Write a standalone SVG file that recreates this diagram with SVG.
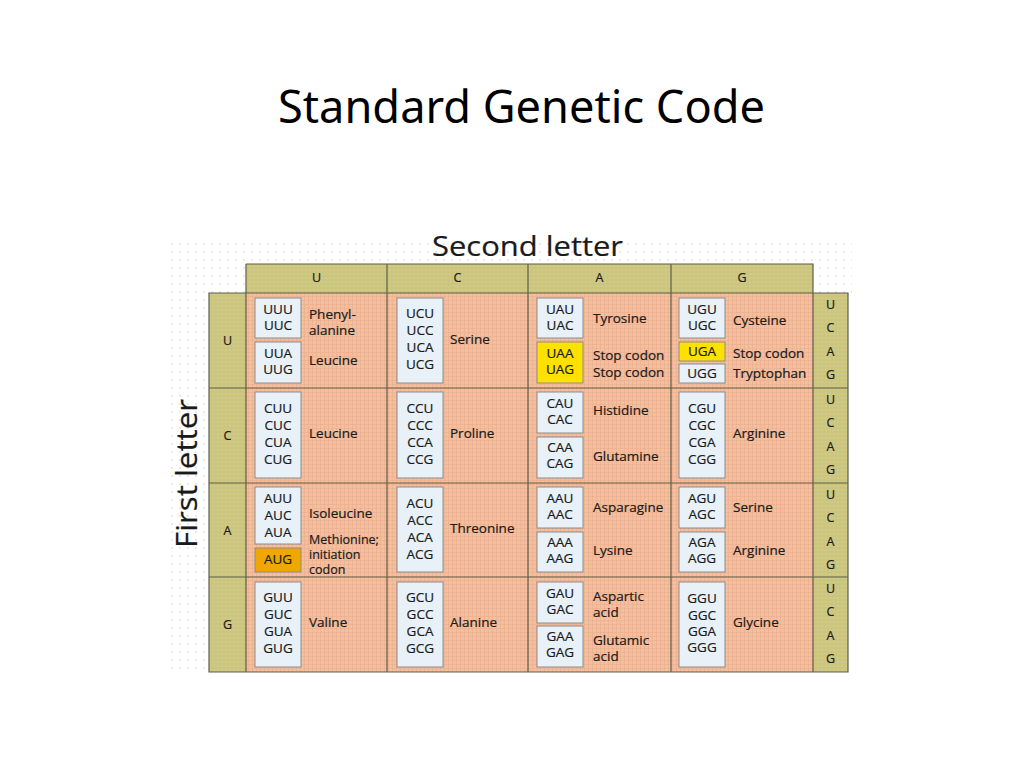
<svg xmlns="http://www.w3.org/2000/svg" width="1024" height="768" viewBox="0 0 1024 768">
<defs>
<pattern id="bgdots" width="8" height="8" patternUnits="userSpaceOnUse">
<circle cx="4" cy="4" r="0.8" fill="#cfcfcf"/>
</pattern>
<pattern id="olive" width="4" height="4" patternUnits="userSpaceOnUse">
<rect width="4" height="4" fill="#cbc57e"/>
<circle cx="2" cy="2" r="0.6" fill="#e6e2b4"/>
</pattern>
<pattern id="orange" width="4" height="4" patternUnits="userSpaceOnUse">
<rect width="4" height="4" fill="#f4bf9f"/>
<path d="M0 0.5H4M0.5 0V4" stroke="#e9ad8c" stroke-width="0.6"/>
</pattern>
<style>
.t{font-family:"Open Sans","Noto Sans","DejaVu Sans",sans-serif;fill:#1a1a1a;stroke:#1a1a1a;stroke-width:0.2;}
.cod{font-size:13.5px;text-anchor:middle;}
.aa{font-size:13.5px;}
.sm{font-size:12.5px;}
.hd{font-size:12.5px;text-anchor:middle;}
.box{fill:#e8f1f8;stroke:#8c8c8c;stroke-width:1;}
.stop{fill:#ffe100;stroke:#8c8c8c;stroke-width:1;}
.start{fill:#f0a800;stroke:#8c8c8c;stroke-width:1;}
.ln{stroke:#5e5e48;stroke-width:1.2;fill:none;}
</style>
</defs>
<rect width="1024" height="768" fill="#ffffff"/>
<text x="278" y="123" textLength="487" lengthAdjust="spacingAndGlyphs" style="font-family:'Comic Sans MS','Noto Sans','DejaVu Sans',sans-serif;font-size:46px;fill:#000">Standard Genetic Code</text>

<g id="background">
<rect x="170" y="237" width="682" height="56" fill="url(#bgdots)"/>
<rect x="170" y="293" width="39" height="379" fill="url(#bgdots)"/>
</g>

<g id="axis-labels">
<text class="t" x="432" y="256" textLength="191" lengthAdjust="spacingAndGlyphs" style="font-size:27px">Second letter</text>
<text class="t" transform="translate(197,548) rotate(-90)" textLength="149" lengthAdjust="spacingAndGlyphs" style="font-size:30px">First letter</text>
</g>

<g id="frame">
<rect x="246" y="264" width="567" height="29" fill="url(#olive)"/>
<rect x="209" y="293" width="37" height="379" fill="url(#olive)"/>
<rect x="813" y="293" width="35" height="379" fill="url(#olive)"/>
<rect x="246" y="293" width="567" height="379" fill="url(#orange)"/>
</g>

<g id="header">
<text class="t hd" x="316.5" y="282">U</text>
<text class="t hd" x="457.5" y="282">C</text>
<text class="t hd" x="599.5" y="282">A</text>
<text class="t hd" x="742" y="282">G</text>
</g>
<g id="first-letters">
<text class="t hd" x="227.5" y="345">U</text>
<text class="t hd" x="227.5" y="440">C</text>
<text class="t hd" x="227.5" y="535">A</text>
<text class="t hd" x="227.5" y="629">G</text>
</g>
<g id="third-letters">
<text class="t hd" x="830.5" y="309">U</text><text class="t hd" x="830.5" y="332">C</text><text class="t hd" x="830.5" y="356">A</text><text class="t hd" x="830.5" y="379">G</text>
<text class="t hd" x="830.5" y="404">U</text><text class="t hd" x="830.5" y="427">C</text><text class="t hd" x="830.5" y="451">A</text><text class="t hd" x="830.5" y="474">G</text>
<text class="t hd" x="830.5" y="499">U</text><text class="t hd" x="830.5" y="522">C</text><text class="t hd" x="830.5" y="546">A</text><text class="t hd" x="830.5" y="569">G</text>
<text class="t hd" x="830.5" y="593">U</text><text class="t hd" x="830.5" y="616">C</text><text class="t hd" x="830.5" y="640">A</text><text class="t hd" x="830.5" y="663">G</text>
</g>

<g id="connectors">
<path class="ln" d="M246 264H813V293M246 264V672M387 264V672M528 264V672M671 264V672M813 293V672"/>
<path class="ln" d="M209 293H848V672H209ZM209 388H848M209 483H848M209 577H848"/>
</g>

<!-- Row U -->
<g id="cell-UU">
<rect class="box" x="255" y="298" width="46" height="40"/>
<text class="t cod" x="278" y="314">UUU</text><text class="t cod" x="278" y="330">UUC</text>
<rect class="box" x="255" y="342" width="46" height="41"/>
<text class="t cod" x="278" y="358">UUA</text><text class="t cod" x="278" y="374">UUG</text>
<text class="t aa" x="309" y="319">Phenyl-</text><text class="t aa" x="309" y="335">alanine</text>
<text class="t aa" x="309" y="365">Leucine</text>
</g>
<g id="cell-UC">
<rect class="box" x="397" y="298" width="46" height="85"/>
<text class="t cod" x="420" y="318">UCU</text><text class="t cod" x="420" y="335">UCC</text><text class="t cod" x="420" y="352">UCA</text><text class="t cod" x="420" y="369">UCG</text>
<text class="t aa" x="450" y="344">Serine</text>
</g>
<g id="cell-UA">
<rect class="box" x="537" y="298" width="46" height="40"/>
<text class="t cod" x="560" y="314">UAU</text><text class="t cod" x="560" y="330">UAC</text>
<rect class="stop" x="537" y="342" width="46" height="41"/>
<text class="t cod" x="560" y="358">UAA</text><text class="t cod" x="560" y="374">UAG</text>
<text class="t aa" x="593" y="323">Tyrosine</text>
<text class="t aa" x="593" y="360">Stop codon</text><text class="t aa" x="593" y="377">Stop codon</text>
</g>
<g id="cell-UG">
<rect class="box" x="679" y="298" width="46" height="40"/>
<text class="t cod" x="702" y="314">UGU</text><text class="t cod" x="702" y="330">UGC</text>
<rect class="stop" x="679" y="342" width="46" height="19"/>
<text class="t cod" x="702" y="356">UGA</text>
<rect class="box" x="679" y="364" width="46" height="19"/>
<text class="t cod" x="702" y="378">UGG</text>
<text class="t aa" x="733" y="325">Cysteine</text>
<text class="t aa" x="733" y="358">Stop codon</text><text class="t aa" x="733" y="378">Tryptophan</text>
</g>

<!-- Row C -->
<g id="cell-CU">
<rect class="box" x="255" y="392" width="46" height="86"/>
<text class="t cod" x="278" y="413">CUU</text><text class="t cod" x="278" y="430">CUC</text><text class="t cod" x="278" y="447">CUA</text><text class="t cod" x="278" y="464">CUG</text>
<text class="t aa" x="309" y="438">Leucine</text>
</g>
<g id="cell-CC">
<rect class="box" x="397" y="392" width="46" height="86"/>
<text class="t cod" x="420" y="413">CCU</text><text class="t cod" x="420" y="430">CCC</text><text class="t cod" x="420" y="447">CCA</text><text class="t cod" x="420" y="464">CCG</text>
<text class="t aa" x="450" y="438">Proline</text>
</g>
<g id="cell-CA">
<rect class="box" x="537" y="392" width="46" height="41"/>
<text class="t cod" x="560" y="408">CAU</text><text class="t cod" x="560" y="424">CAC</text>
<rect class="box" x="537" y="437" width="46" height="41"/>
<text class="t cod" x="560" y="452">CAA</text><text class="t cod" x="560" y="468">CAG</text>
<text class="t aa" x="593" y="415">Histidine</text>
<text class="t aa" x="593" y="461">Glutamine</text>
</g>
<g id="cell-CG">
<rect class="box" x="679" y="392" width="46" height="86"/>
<text class="t cod" x="702" y="413">CGU</text><text class="t cod" x="702" y="430">CGC</text><text class="t cod" x="702" y="447">CGA</text><text class="t cod" x="702" y="464">CGG</text>
<text class="t aa" x="733" y="438">Arginine</text>
</g>

<!-- Row A -->
<g id="cell-AU">
<rect class="box" x="255" y="487" width="46" height="57"/>
<text class="t cod" x="278" y="503">AUU</text><text class="t cod" x="278" y="520">AUC</text><text class="t cod" x="278" y="537">AUA</text>
<rect class="start" x="255" y="548" width="46" height="24"/>
<text class="t cod" x="278" y="564">AUG</text>
<text class="t aa" x="309" y="518">Isoleucine</text>
<text class="t aa sm" x="309" y="544">Methionine;</text><text class="t aa sm" x="309" y="559">initiation</text><text class="t aa sm" x="309" y="574">codon</text>
</g>
<g id="cell-AC">
<rect class="box" x="397" y="487" width="46" height="85"/>
<text class="t cod" x="420" y="508">ACU</text><text class="t cod" x="420" y="525">ACC</text><text class="t cod" x="420" y="542">ACA</text><text class="t cod" x="420" y="559">ACG</text>
<text class="t aa" x="450" y="533">Threonine</text>
</g>
<g id="cell-AA">
<rect class="box" x="537" y="487" width="46" height="41"/>
<text class="t cod" x="560" y="503">AAU</text><text class="t cod" x="560" y="519">AAC</text>
<rect class="box" x="537" y="532" width="46" height="40"/>
<text class="t cod" x="560" y="547">AAA</text><text class="t cod" x="560" y="563">AAG</text>
<text class="t aa" x="593" y="512">Asparagine</text>
<text class="t aa" x="593" y="555">Lysine</text>
</g>
<g id="cell-AG">
<rect class="box" x="679" y="487" width="46" height="41"/>
<text class="t cod" x="702" y="503">AGU</text><text class="t cod" x="702" y="519">AGC</text>
<rect class="box" x="679" y="532" width="46" height="40"/>
<text class="t cod" x="702" y="547">AGA</text><text class="t cod" x="702" y="563">AGG</text>
<text class="t aa" x="733" y="512">Serine</text>
<text class="t aa" x="733" y="555">Arginine</text>
</g>

<!-- Row G -->
<g id="cell-GU">
<rect class="box" x="255" y="582" width="46" height="85"/>
<text class="t cod" x="278" y="602">GUU</text><text class="t cod" x="278" y="619">GUC</text><text class="t cod" x="278" y="636">GUA</text><text class="t cod" x="278" y="653">GUG</text>
<text class="t aa" x="309" y="627">Valine</text>
</g>
<g id="cell-GC">
<rect class="box" x="397" y="582" width="46" height="85"/>
<text class="t cod" x="420" y="602">GCU</text><text class="t cod" x="420" y="619">GCC</text><text class="t cod" x="420" y="636">GCA</text><text class="t cod" x="420" y="653">GCG</text>
<text class="t aa" x="450" y="627">Alanine</text>
</g>
<g id="cell-GA">
<rect class="box" x="537" y="582" width="46" height="41"/>
<text class="t cod" x="560" y="598">GAU</text><text class="t cod" x="560" y="614">GAC</text>
<rect class="box" x="537" y="626" width="46" height="41"/>
<text class="t cod" x="560" y="641">GAA</text><text class="t cod" x="560" y="657">GAG</text>
<text class="t aa" x="593" y="601">Aspartic</text><text class="t aa" x="593" y="617">acid</text>
<text class="t aa" x="593" y="645">Glutamic</text><text class="t aa" x="593" y="661">acid</text>
</g>
<g id="cell-GG">
<rect class="box" x="679" y="582" width="46" height="85"/>
<text class="t cod" x="702" y="603">GGU</text><text class="t cod" x="702" y="620">GGC</text><text class="t cod" x="702" y="636">GGA</text><text class="t cod" x="702" y="652">GGG</text>
<text class="t aa" x="733" y="627">Glycine</text>
</g>
</svg>
